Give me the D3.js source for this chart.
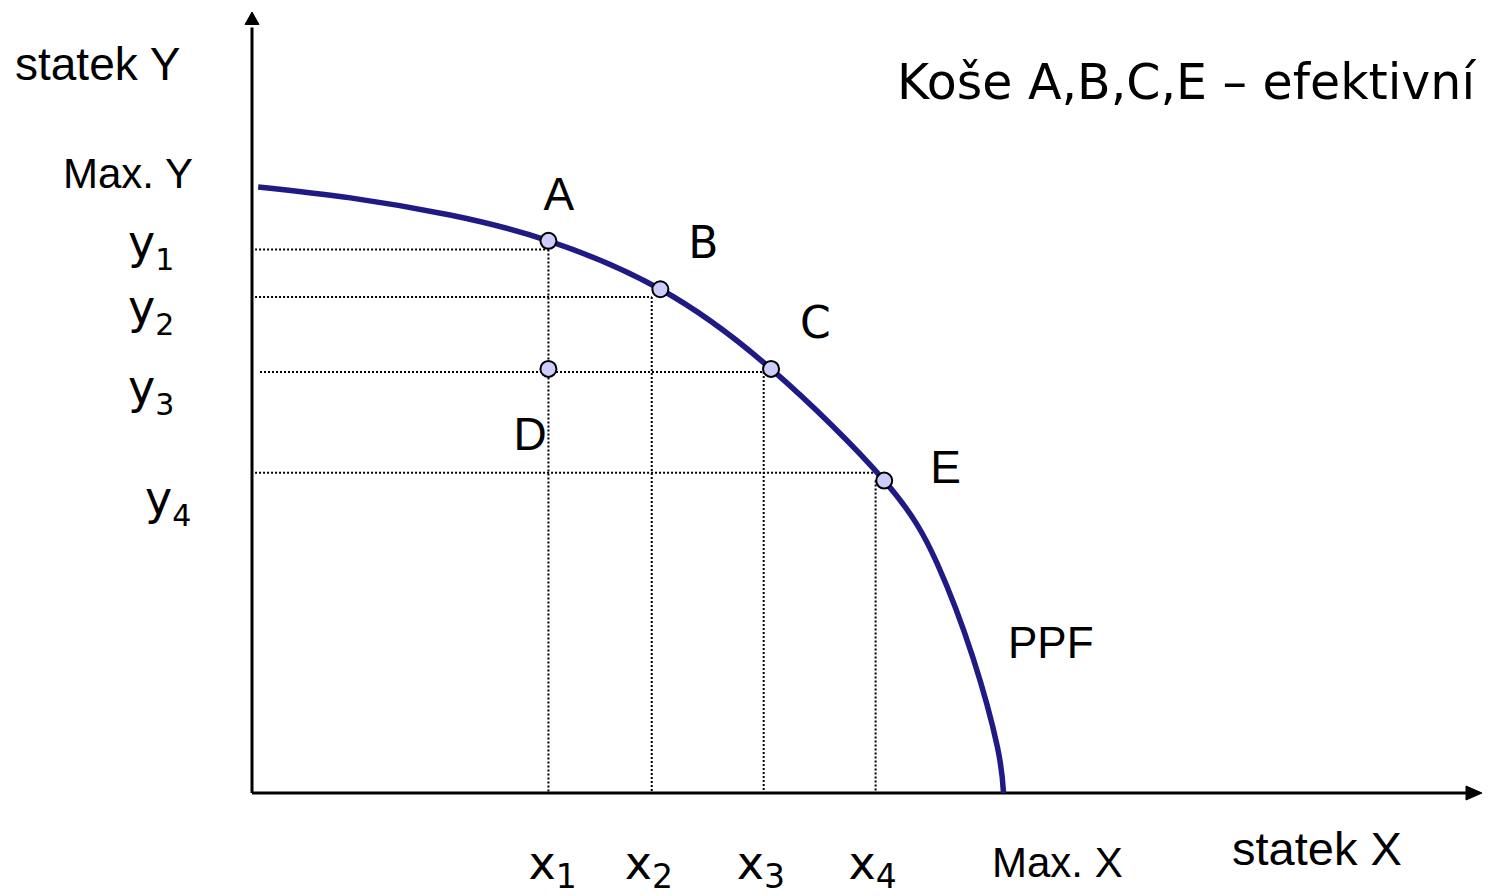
<!DOCTYPE html>
<meta charset="utf-8">
<style>
body { margin: 0; background: #fff; }
.guides line { stroke: #000; stroke-width: 2; stroke-dasharray: 2,2; }
.axis line, .axis path { stroke: #000; }
.ppf { fill: none; stroke: #201a84; stroke-width: 5.5; }
.pts circle { fill: #ccccff; stroke: #000; stroke-width: 2; }
.arial { font-family: "Liberation Sans", Arial, sans-serif; }
.verd { font-family: "DejaVu Sans", Verdana, sans-serif; }
</style>
<svg width="1500" height="896"></svg>
<script src="https://cdn.jsdelivr.net/npm/d3@7"></script>
<script>

// PPF curve (both axes 0..100)
var ppfX = [0.5, 8.0, 16.1, 24.1, 33.2, 42.2, 51.4, 55.7, 58.6, 60.6, 61.1];
var ppfY = [77.6, 76.2, 74.0, 70.7, 64.5, 54.3, 40.0, 29.4, 17.4, 5.9, 0];

// baskets
var ptNames = ["A", "B", "C", "E", "D"];
var ptX = [24.1, 33.2, 42.2, 51.4, 24.1];
var ptY = [70.7, 64.5, 54.3, 40.0, 54.3];

// dotted guides x1..x4 and y1..y4
var guideX = [24.1, 32.5, 41.6, 50.7];
var guideY = [69.6, 63.5, 53.9, 41.0];
var guideXtop = [69.6, 63.5, 53.9, 40.0];   // where each vertical guide starts
var guideYend = [24.1, 32.5, 42.2, 50.7];   // where each horizontal guide ends
var tickNames = ["1", "2", "3", "4"];

var svg = d3.select("svg");

var x = d3.scaleLinear().domain([0, 100]).range([252, 1482]);
var y = d3.scaleLinear().domain([0, 100]).range([793, 12]);

// guides
var g = svg.append("g").attr("class", "guides");
g.selectAll(".h").data(guideY).enter().append("line")
    .attr("x1", function(d, i) { return i == 2 ? x(0.65) : x(0.25); })
    .attr("x2", function(d, i) { return x(guideYend[i]); })
    .attr("y1", function(d) { return y(d); })
    .attr("y2", function(d) { return y(d); });
g.selectAll(".v").data(guideX).enter().append("line")
    .attr("x1", function(d) { return x(d); })
    .attr("x2", function(d) { return x(d); })
    .attr("y1", function(d, i) { return y(guideXtop[i]); })
    .attr("y2", y(0));

// axes
var ax = svg.append("g").attr("class", "axis");
ax.append("line").attr("x1", x(0)).attr("y1", y(0)).attr("x2", x(0)).attr("y2", y(98)).attr("stroke-width", 3);
ax.append("line").attr("x1", x(0)).attr("y1", y(0)).attr("x2", x(98.8)).attr("y2", y(0)).attr("stroke-width", 3);
ax.append("path").attr("d", d3.line()([[x(0) - 7, y(98.4)], [x(0) + 7, y(98.4)], [x(0), y(100)]]) + "Z").attr("fill", "#000");
ax.append("path").attr("d", d3.line()([[x(98.7), y(0) - 7], [x(98.7), y(0) + 7], [x(100), y(0)]]) + "Z").attr("fill", "#000");

// PPF
var line = d3.line()
    .x(function(d) { return x(d[0]); })
    .y(function(d) { return y(d[1]); })
    .curve(d3.curveNatural);
svg.append("path").attr("class", "ppf")
    .attr("d", line(d3.zip(ppfX, ppfY)));

// points
svg.append("g").attr("class", "pts").selectAll("circle")
    .data(ptNames).enter().append("circle")
    .attr("cx", function(d, i) { return x(ptX[i]); })
    .attr("cy", function(d, i) { return y(ptY[i]); })
    .attr("r", 8);

// point labels, offsets in px from the point
var labOff = { A: [-5, -31], B: [28, -31], C: [29, -31], E: [46, 2], D: [-35, 81] };
svg.append("g").selectAll("text")
    .data(ptNames).enter().append("text")
    .attr("class", function(d) { return (d == "B" || d == "C") ? "verd" : "arial"; })
    .attr("font-size", function(d) { return (d == "B" || d == "C") ? 44 : 46; })
    .attr("x", function(d, i) { return x(ptX[i]) + labOff[d][0]; })
    .attr("y", function(d, i) { return y(ptY[i]) + labOff[d][1]; })
    .text(function(d) { return d; });

// y tick labels
var yLabX = [128, 128, 128, 145];
var yLabDy = [9, 26, 31, 41];
var yl = svg.append("g").selectAll("text")
    .data(tickNames).enter().append("text")
    .attr("class", "verd").attr("font-size", 46)
    .attr("x", function(d, i) { return yLabX[i]; })
    .attr("y", function(d, i) { return y(guideY[i]) + yLabDy[i]; });
yl.append("tspan").text("y");
yl.append("tspan").attr("font-size", 30).attr("dy", 12).text(function(d) { return d; });

// x tick labels
var xLabDx = [-20, -27, -27, -27];
var xl = svg.append("g").selectAll("text")
    .data(tickNames).enter().append("text")
    .attr("class", "verd").attr("font-size", 46)
    .attr("x", function(d, i) { return x(guideX[i]) + xLabDx[i]; })
    .attr("y", 879);
xl.append("tspan").text("x");
xl.append("tspan").attr("font-size", 33).attr("dy", 9).text(function(d) { return d; });

// other texts
svg.append("text").attr("class", "arial").attr("font-size", 46).attr("x", 15).attr("y", 80).text("statek Y");
svg.append("text").attr("class", "arial").attr("font-size", 42).attr("x", 63).attr("y", 188).text("Max. Y");
svg.append("text").attr("class", "verd").attr("font-size", 49).attr("x", 897).attr("y", 99).text("Koše A,B,C,E – efektivní");
svg.append("text").attr("class", "arial").attr("font-size", 44).attr("x", 1008).attr("y", 658).text("PPF");
svg.append("text").attr("class", "arial").attr("font-size", 42).attr("x", 992).attr("y", 877).text("Max. X");
svg.append("text").attr("class", "arial").attr("font-size", 47).attr("x", 1232).attr("y", 865).text("statek X");

</script>
